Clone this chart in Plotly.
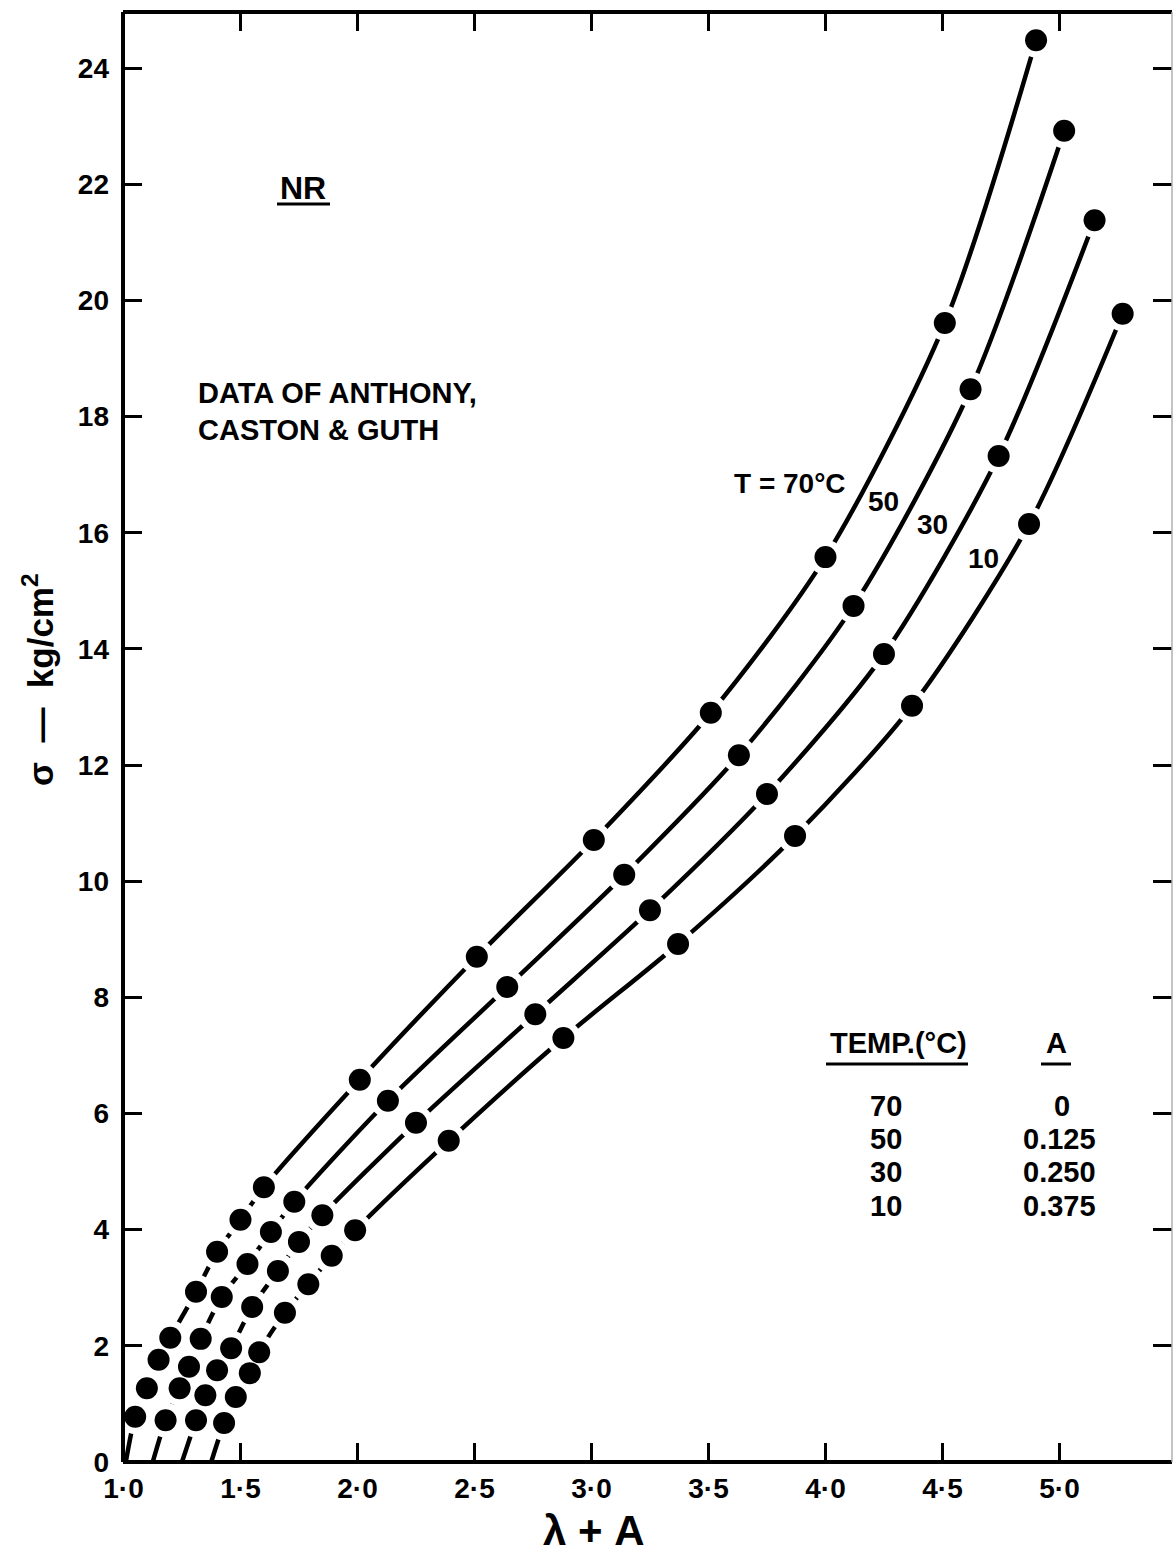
import plotly.graph_objects as go

# ---------------- data ----------------
temps = ["70", "50", "30", "10"]
a_values = ["0", "0.125", "0.250", "0.375"]

x_70 = [1.05, 1.10, 1.15, 1.20, 1.31, 1.40, 1.50, 1.60, 2.01, 2.51, 3.01, 3.51, 4.00, 4.51, 4.90]
y_70 = [0.78, 1.27, 1.76, 2.14, 2.93, 3.62, 4.17, 4.73, 6.58, 8.70, 10.71, 12.90, 15.58, 19.61, 24.48]

x_50 = [1.18, 1.24, 1.28, 1.33, 1.42, 1.53, 1.63, 1.73, 2.13, 2.64, 3.14, 3.63, 4.12, 4.62, 5.02]
y_50 = [0.72, 1.27, 1.64, 2.12, 2.84, 3.41, 3.96, 4.48, 6.22, 8.18, 10.11, 12.17, 14.74, 18.47, 22.92]

x_30 = [1.31, 1.35, 1.40, 1.46, 1.55, 1.66, 1.75, 1.85, 2.25, 2.76, 3.25, 3.75, 4.25, 4.74, 5.15]
y_30 = [0.72, 1.15, 1.58, 1.96, 2.67, 3.29, 3.79, 4.25, 5.84, 7.71, 9.50, 11.50, 13.91, 17.32, 21.38]

x_10 = [1.43, 1.48, 1.54, 1.58, 1.69, 1.79, 1.89, 1.99, 2.39, 2.88, 3.37, 3.87, 4.37, 4.87, 5.27]
y_10 = [0.67, 1.12, 1.53, 1.89, 2.57, 3.06, 3.55, 3.99, 5.53, 7.30, 8.92, 10.78, 13.02, 16.15, 19.77]

# where each drawn curve meets sigma = 0
curve_start_x = [1.01, 1.125, 1.25, 1.375]

x_tick_vals = [1.0, 1.5, 2.0, 2.5, 3.0, 3.5, 4.0, 4.5, 5.0]
x_tick_text = ["1·0", "1·5", "2·0", "2·5", "3·0", "3·5", "4·0", "4·5", "5·0"]
y_tick_vals = [0, 2, 4, 6, 8, 10, 12, 14, 16, 18, 20, 22, 24]
y_tick_text = [str(v) for v in y_tick_vals]

series = [(x_70, y_70), (x_50, y_50), (x_30, y_30), (x_10, y_10)]

# ---------------- layout geometry ----------------
W, H = 1173, 1564
L, R, T, B = 123, 1172, 12, 1462
X_RANGE = [0.998, 0.998 + (R - L) / 234.0]
Y_RANGE = [0, (B - T) / 58.08]

FONT = "Liberation Sans, Arial, sans-serif"


def pxx(p):
    return (p - L) / (R - L)


def pxy(p):
    return (B - p) / (B - T)


fig = go.Figure()

# curves (solid, smooth)
for (xs, ys), x0 in zip(series, curve_start_x):
    fig.add_trace(go.Scatter(
        x=[x0] + xs, y=[0] + ys, mode="lines",
        line=dict(color="black", width=4.5, shape="spline", smoothing=0.8),
        hoverinfo="skip", showlegend=False, cliponaxis=True))

# white halos to make the gaps around points
for xs, ys in series:
    fig.add_trace(go.Scatter(
        x=xs, y=ys, mode="markers",
        marker=dict(color="white", size=35, line=dict(width=0)),
        hoverinfo="skip", showlegend=False))

# black points
for (xs, ys), t in zip(series, temps):
    fig.add_trace(go.Scatter(
        x=xs, y=ys, mode="markers", name=t + " °C",
        marker=dict(color="black", size=22, line=dict(width=0)),
        showlegend=False))

ann = []


def text(s, x, y, size=28, xanchor="center", yanchor="middle", angle=0):
    ann.append(dict(text=s, x=pxx(x), y=pxy(y), xref="paper", yref="paper",
                    showarrow=False, xanchor=xanchor, yanchor=yanchor,
                    textangle=angle,
                    font=dict(family=FONT, size=size, color="black", weight="bold")))


text("NR", 303, 188, size=32)
text("DATA OF ANTHONY,", 196, 393, size=29, xanchor="left")
text("CASTON &amp; GUTH", 196, 430, size=29, xanchor="left")

text("T = 70°C", 790, 483, size=28)
text("50", 883, 501, size=28)
text("30", 932, 524, size=28)
text("10", 983, 558, size=28)

text("TEMP.(°C)", 898, 1043, size=29)
text("A", 1056, 1043, size=29)
row_y = [1106, 1139, 1172, 1206]
for t, a, yy in zip(temps, a_values, row_y):
    text(t, 868, yy, size=29, xanchor="left")
    if a == "0":
        text(a, 1062, yy, size=29)
    else:
        text(a, 1021, yy, size=29, xanchor="left")

# axis titles
text("λ + A", 594, 1530, size=42)
text("σ  —  kg/cm<sup>2</sup>", 38, 680, size=35, angle=-90)

shapes = []


def seg(x0, y0, x1, y1, w=3, color="black"):
    shapes.append(dict(type="line", xref="paper", yref="paper",
                       x0=pxx(x0), y0=pxy(y0), x1=pxx(x1), y1=pxy(y1),
                       line=dict(color=color, width=w)))


# frame
seg(L, T, L, B, w=4)
seg(L, B, R, B, w=4)
seg(L, T, R, T, w=4)
seg(R, T, R, B, w=1.5, color="#b0b0b0")
# underlines
seg(277, 204, 330, 204, w=3)
seg(826, 1064, 968, 1064, w=3)
seg(1041, 1064, 1071, 1064, w=3)

axis_font = dict(family=FONT, size=28, color="black", weight="bold")

fig.update_layout(
    width=W, height=H,
    margin=dict(l=L, r=W - R, t=T, b=H - B, pad=0),
    paper_bgcolor="white", plot_bgcolor="white",
    showlegend=False,
    annotations=ann, shapes=shapes,
    xaxis=dict(range=X_RANGE, tickmode="array", tickvals=x_tick_vals,
               ticktext=x_tick_text, ticks="inside", ticklen=19, tickwidth=3,
               tickcolor="black", mirror="ticks", showline=False,
               showgrid=False, zeroline=False, tickfont=axis_font,
               ticklabelstandoff=7),
    yaxis=dict(range=Y_RANGE, tickmode="array", tickvals=y_tick_vals,
               ticktext=y_tick_text, ticks="inside", ticklen=19, tickwidth=3,
               tickcolor="black", mirror="ticks", showline=False,
               showgrid=False, zeroline=False, tickfont=axis_font,
               ticklabelstandoff=13),
)

fig.write_html("out.html")
